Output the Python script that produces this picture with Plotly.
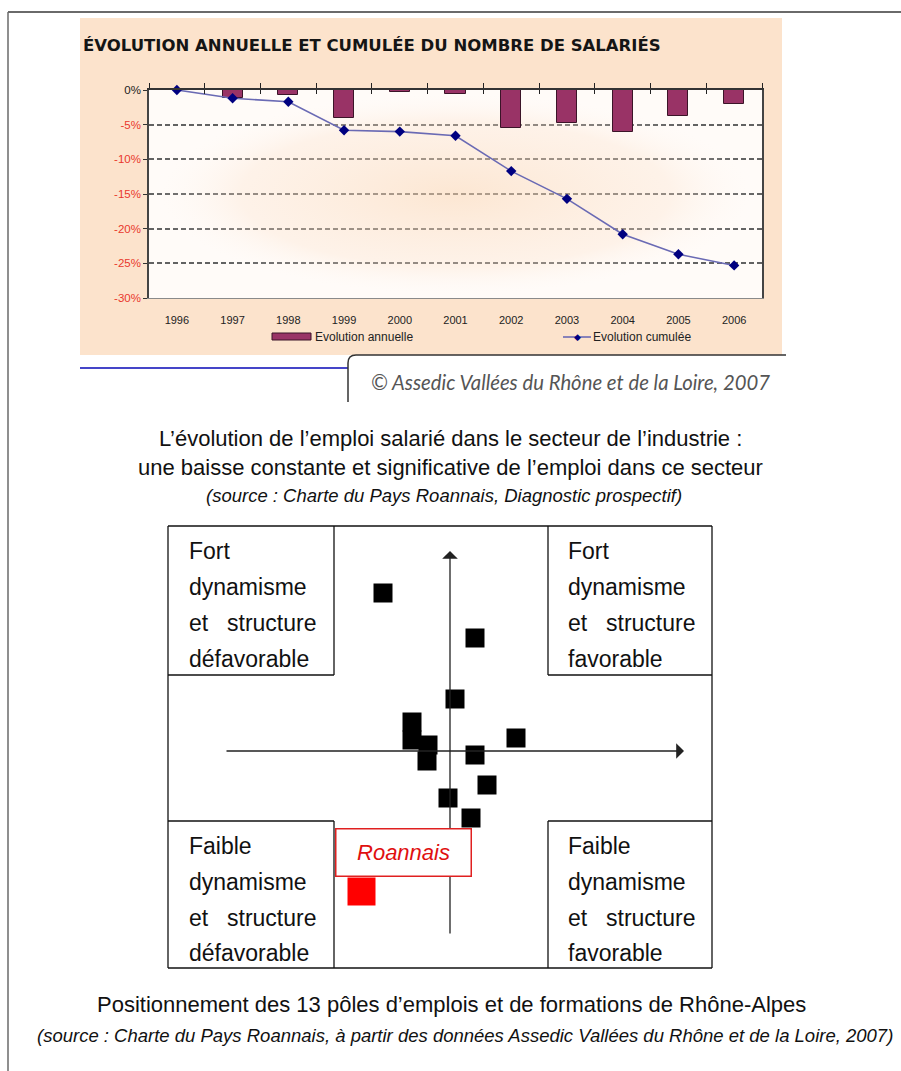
import plotly.graph_objects as go

W, H = 901, 1071


def px(x):
    return x / W


def py(y):
    return 1 - y / H


# ---------------- data ----------------
years = ["1996", "1997", "1998", "1999", "2000", "2001", "2002", "2003", "2004", "2005", "2006"]
annual_change = [0, -1.2, -0.7, -4.0, -0.3, -0.6, -5.5, -4.8, -6.1, -3.8, -2.0]
cumulative_change = [0, -1.2, -1.7, -5.8, -6.0, -6.6, -11.7, -15.7, -20.8, -23.7, -25.3]
y_tick_values = [0, -5, -10, -15, -20, -25, -30]
y_tick_labels = ["0%", "-5%", "-10%", "-15%", "-20%", "-25%", "-30%"]
series_names = ["Evolution annuelle", "Evolution cumulée"]

# positions of the 13 employment poles (dynamism on x, structure on y)
poles_x = [-6.7, 2.5, 0.5, -3.8, -3.8, -2.2, -2.3, 6.6, 2.5, 3.7, -0.2, 2.1]
poles_y = [15.8, 11.3, 5.2, 2.9, 1.1, 0.6, -1.0, 1.3, -0.4, -3.4, -4.7, -6.7]
roannais_x = [-8.85]
roannais_y = [-14.05]

idx = list(range(len(years)))
x_lo, x_hi = -0.5, len(years) - 0.5
y_lo, y_hi = y_tick_values[-1], y_tick_values[0]

SANS = "Liberation Sans, Arial, sans-serif"
BAR_COLOR = "#993366"
LINE_COLOR = "#6a6ab4"
MARKER_COLOR = "#000080"

fig = go.Figure()

# soft radial shading of the plot area, on a hidden base subplot drawn first
fig.add_trace(go.Scatter(
    x=[x_lo, x_hi, x_hi, x_lo, x_lo], y=[y_hi, y_hi, y_lo, y_lo, y_hi], mode="lines",
    fill="toself", line=dict(width=0), showlegend=False, hoverinfo="skip",
    fillgradient=dict(type="radial",
                      colorscale=[[0, "rgba(250,214,180,0.55)"], [0.7, "rgba(252,226,204,0.35)"],
                                  [1, "rgba(255,255,255,0.05)"]]),
    xaxis="x", yaxis="y",
))
fig.add_trace(go.Bar(
    x=idx, y=annual_change, width=0.36, name=series_names[0], showlegend=False,
    marker=dict(color=BAR_COLOR, line=dict(color="#3b1428", width=1)),
    xaxis="x5", yaxis="y5",
))
fig.add_trace(go.Scatter(
    x=idx, y=cumulative_change, mode="lines+markers", name=series_names[1], showlegend=False,
    line=dict(color=LINE_COLOR, width=1.6),
    marker=dict(symbol="diamond", size=8, color=MARKER_COLOR),
    cliponaxis=False, xaxis="x5", yaxis="y5",
))
# helper empty traces so the overlay tick axes are drawn
for ax in ["x2", "x3"]:
    fig.add_trace(go.Scatter(x=[None], y=[None], xaxis=ax, yaxis="y5",
                             showlegend=False, hoverinfo="skip"))

fig.add_trace(go.Scatter(
    x=poles_x, y=poles_y, mode="markers", showlegend=False,
    marker=dict(symbol="square", size=19, color="#000000"),
    xaxis="x4", yaxis="y4", cliponaxis=False,
))
fig.add_trace(go.Scatter(
    x=roannais_x, y=roannais_y, mode="markers", showlegend=False,
    marker=dict(symbol="square", size=28, color="#ff0000"),
    xaxis="x4", yaxis="y4", cliponaxis=False,
))

# --------------- axes ---------------
xdom = [px(149), px(762)]
ydom = [py(298), py(90)]
common_x = dict(domain=xdom, range=[x_lo, x_hi], showgrid=False, zeroline=False, fixedrange=True,
                automargin=False)

fig.update_layout(
    xaxis=dict(**common_x, anchor="y", visible=False),
    yaxis=dict(domain=ydom, range=[y_lo, y_hi], anchor="x", visible=False, fixedrange=True,
               automargin=False),
    xaxis5=dict(**common_x, anchor="y5", overlaying="x", tickvals=idx, ticktext=years, ticks="",
                showline=True, linecolor="#8a8a8a", linewidth=1.2,
                tickfont=dict(family=SANS, size=11, color="#222"), ticklabelstandoff=12),
    xaxis2=dict(**common_x, anchor="y5", overlaying="x", side="top",
                tickvals=[i - 0.5 for i in range(len(years) + 1)], showticklabels=False,
                ticks="outside", ticklen=5, tickcolor="#222", tickwidth=1.2,
                showline=True, linecolor="#333", linewidth=1.5),
    xaxis3=dict(**common_x, anchor="y5", overlaying="x", side="top",
                tickvals=[i - 0.5 for i in range(len(years) + 1)], showticklabels=False,
                ticks="inside", ticklen=4, tickcolor="#222", tickwidth=1.2,
                showline=False),
    yaxis5=dict(domain=ydom, range=[y_lo, y_hi], anchor="x5", overlaying="y", side="left",
                tickvals=y_tick_values,
                ticktext=["<span style='color:#222'>0%</span>"] + y_tick_labels[1:],
                ticks="outside", ticklen=4, tickcolor="#333", tickwidth=1.2,
                showline=True, linecolor="#444", linewidth=1.5, mirror=True,
                showgrid=True, gridcolor="#5a5a5a", gridwidth=1.6, griddash="5px,3px",
                zeroline=False, fixedrange=True, automargin=False,
                tickfont=dict(family=SANS, size=11.5, color="#e9382c")),
    xaxis4=dict(domain=[px(168), px(712)], range=[(168 - 450) / 10, (712 - 450) / 10],
                visible=False, anchor="y4", fixedrange=True, automargin=False),
    yaxis4=dict(domain=[py(968), py(526)], range=[(751 - 968) / 10, (751 - 526) / 10],
                visible=False, anchor="x4", fixedrange=True, automargin=False),
)

# --------------- shapes ---------------
shapes = []
# peach panel
shapes.append(dict(type="rect", xref="paper", yref="paper", x0=px(80), x1=px(782), y0=py(355), y1=py(18),
                   fillcolor="#fce3cc", line=dict(width=0), layer="below"))
# light plot area
shapes.append(dict(type="rect", xref="x domain", yref="y domain", x0=0, x1=1, y0=0, y1=1,
                   fillcolor="#fffbf8", line=dict(width=0), layer="below"))
# page border
shapes.append(dict(type="line", xref="paper", yref="paper", x0=px(8), x1=1, y0=py(12), y1=py(12),
                   line=dict(color="#6a6a6a", width=2)))
shapes.append(dict(type="line", xref="paper", yref="paper", x0=px(8), x1=px(8), y0=py(12), y1=0,
                   line=dict(color="#6a6a6a", width=1.5)))
# blue rule
shapes.append(dict(type="line", xref="paper", yref="paper", x0=px(80), x1=px(348), y0=py(368), y1=py(368),
                   line=dict(color="#4545c8", width=2)))
# copyright box with rounded corner
path = "M {a},{b} L {a},{c} Q {a},{d} {e},{d} L {f},{d}".format(
    a=px(348), b=py(402), c=py(363), d=py(355), e=px(356), f=px(786))
shapes.append(dict(type="path", xref="paper", yref="paper", path=path,
                   line=dict(color="#333", width=1.5)))

# legend swatches (drawn by hand, like the spreadsheet legend)
shapes.append(dict(type="rect", xref="paper", yref="paper", x0=px(272), x1=px(311), y0=py(340), y1=py(333),
                   fillcolor=BAR_COLOR, line=dict(color="#3b1428", width=1)))
shapes.append(dict(type="line", xref="paper", yref="paper", x0=px(563), x1=px(591), y0=py(337), y1=py(337),
                   line=dict(color=LINE_COLOR, width=1.6)))


# quadrant frame
def L(x0, y0, x1, y1, color="#111", width=1.3):
    shapes.append(dict(type="line", xref="paper", yref="paper", x0=px(x0), x1=px(x1), y0=py(y0), y1=py(y1),
                       line=dict(color=color, width=width)))


L(168, 526, 712, 526)
L(168, 968, 712, 968)
L(168, 526, 168, 968)
L(712, 526, 712, 968)
L(334, 526, 334, 675); L(168, 675, 334, 675)
L(548, 526, 548, 675); L(548, 675, 712, 675)
L(334, 821, 334, 968); L(168, 821, 334, 821)
L(548, 821, 548, 968); L(548, 821, 712, 821)

fig.update_layout(shapes=shapes)

# --------------- annotations ---------------
ann = []


def T(x, y, text, size, color="#111", family=SANS, xanchor="left", italic=False, bold=False):
    ann.append(dict(xref="paper", yref="paper", x=px(x), y=py(y), text=text, showarrow=False,
                    xanchor=xanchor, yanchor="middle",
                    font=dict(family=family, size=size, color=color,
                              style="italic" if italic else "normal",
                              weight="bold" if bold else "normal")))


T(81, 46, "ÉVOLUTION ANNUELLE ET CUMULÉE DU NOMBRE DE SALARIÉS", 16.5, color="#151515",
  family="DejaVu Sans, sans-serif", bold=True)
T(369, 382, "© Assedic Vallées du Rhône et de la Loire, 2007", 20.3, color="#555",
  family="Lato, sans-serif", italic=True)

# legend texts and diamond marker
T(313, 337, series_names[0], 12, color="#222")
T(591, 337, series_names[1], 12, color="#222")
ann.append(dict(xref="paper", yref="paper", x=px(577), y=py(337), text="◆", showarrow=False,
                xanchor="center", yanchor="middle", font=dict(family="DejaVu Sans", size=9, color=MARKER_COLOR)))

T(450, 438, "L’évolution de l’emploi salarié dans le secteur de l’industrie :", 22, xanchor="center")
T(450, 467, "une baisse constante et significative de l’emploi dans ce secteur", 22, xanchor="center")
T(444, 495, "(source : Charte du Pays Roannais, Diagnostic prospectif)", 18.5, xanchor="center", italic=True)

T(451, 1004, "Positionnement des 13 pôles d’emplois et de formations de Rhône-Alpes", 22, xanchor="center")
T(465, 1035, "(source : Charte du Pays Roannais, à partir des données Assedic Vallées du Rhône et de la Loire, 2007)",
  18.5, xanchor="center", italic=True)

# quadrant labels
for (x0, x1, ys, last) in [(187, 318, [551, 587, 623, 659], "défavorable"),
                           (566, 697, [551, 587, 623, 659], "favorable"),
                           (187, 318, [846, 882, 918, 953], "défavorable"),
                           (566, 697, [846, 882, 918, 953], "favorable")]:
    first = "Fort" if ys[0] < 700 else "Faible"
    T(x0, ys[0], first, 23)
    T(x0, ys[1], "dynamisme", 23)
    T(x0, ys[2], "et", 23)
    T(x1, ys[2], "structure", 23, xanchor="right")
    T(x0, ys[3], last, 23)

# axis arrows of the positioning diagram
ann.append(dict(xref="x4", yref="y4", axref="x4", ayref="y4", x=(684 - 450) / 10, y=0,
                ax=(225 - 450) / 10, ay=0, text="", showarrow=True, arrowhead=1, arrowsize=2.0,
                arrowwidth=1.3, arrowcolor="#222"))
ann.append(dict(xref="x4", yref="y4", axref="x4", ayref="y4", x=0, y=(751 - 551) / 10,
                ax=0, ay=(751 - 935) / 10, text="", showarrow=True, arrowhead=1, arrowsize=2.0,
                arrowwidth=1.3, arrowcolor="#222"))
# Roannais label box (drawn after the arrows so it covers the axis)
ann.append(dict(xref="paper", yref="paper", x=px(403), y=py(853), text="<i>Roannais</i>", showarrow=False,
                xanchor="center", yanchor="middle", width=134, height=46,
                bgcolor="#ffffff", bordercolor="#e02020", borderwidth=1.5, borderpad=0,
                font=dict(family=SANS, size=22, color="#e01010")))

fig.update_layout(annotations=ann)

fig.update_layout(
    width=W, height=H, autosize=False,
    margin=dict(l=0, r=0, t=0, b=0, pad=0, autoexpand=False),
    paper_bgcolor="#ffffff", plot_bgcolor="rgba(0,0,0,0)",
    barmode="overlay", bargap=0,
    showlegend=False,
)

fig.write_html("out.html", config={"displayModeBar": False},
               post_script="document.body.style.margin='0';")
